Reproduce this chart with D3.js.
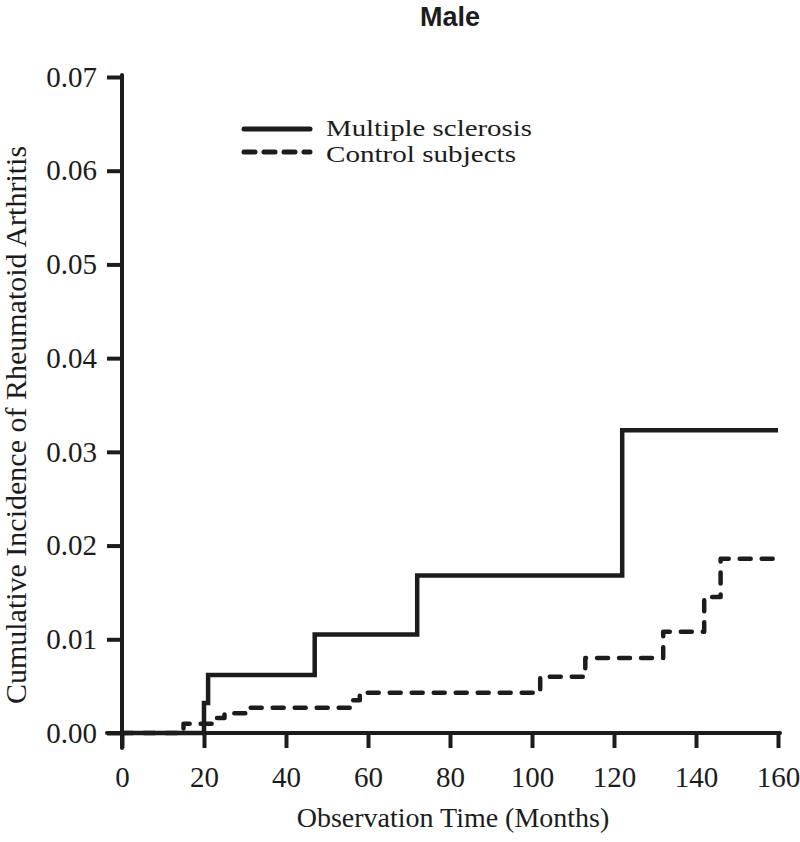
<!DOCTYPE html>
<html><head><meta charset="utf-8">
<script src="https://cdn.jsdelivr.net/npm/d3@7"></script>
<style>body{margin:0;background:#fff}</style>
</head><body>
<svg id="c" width="800" height="842"></svg>
<script>
const msTime = [0, 20, 21, 47, 72, 122, 160];
const msValue = [0, 0.0032, 0.0062, 0.0105, 0.0168, 0.0323, 0.0323];
const ctrlTime = [0, 15, 23, 25, 31, 56, 58, 102, 113, 132, 142, 146, 160];
const ctrlValue = [0, 0.001, 0.0016, 0.0021, 0.0027, 0.0035, 0.0043, 0.006, 0.008, 0.0108, 0.0145, 0.0186, 0.0186];
const xTicks = [0, 20, 40, 60, 80, 100, 120, 140, 160];
const yTicks = [0, 0.01, 0.02, 0.03, 0.04, 0.05, 0.06, 0.07];
const seriesNames = ["Multiple sclerosis", "Control subjects"];

const col = "#1c1c1c";
const svg = d3.select("#c");
const x = d3.scaleLinear().domain([0, 160]).range([122, 778]);
const y = d3.scaleLinear().domain([0, 0.07]).range([733, 77]);
const serif = "'Liberation Serif','Times New Roman',serif";

// axes
const xa = svg.append("g").attr("transform", "translate(0,733)")
  .call(d3.axisBottom(x).tickValues(xTicks).tickSize(15).tickPadding(18).tickFormat(d3.format("d")));
const ya = svg.append("g").attr("transform", "translate(122,0)")
  .call(d3.axisLeft(y).tickValues(yTicks).tickSize(15).tickPadding(10).tickFormat(d3.format(".2f")));
[xa, ya].forEach(a => {
  a.select(".domain").remove();
  a.selectAll(".tick line").attr("stroke", col).attr("stroke-width", 4);
  a.selectAll(".tick text").attr("fill", col).style("font-family", serif).style("font-size", "29px");
});
svg.append("line").attr("x1", 107).attr("x2", x(160) + 2).attr("y1", 733).attr("y2", 733)
  .attr("stroke", col).attr("stroke-width", 4).attr("stroke-linecap", "round");
svg.append("line").attr("x1", 122).attr("x2", 122).attr("y1", y(0.07) - 2).attr("y2", 748)
  .attr("stroke", col).attr("stroke-width", 4).attr("stroke-linecap", "round");

// lines
const line = d3.line().x(d => x(d[0])).y(d => y(d[1])).curve(d3.curveStepAfter);
svg.append("path").datum(ctrlTime.map((t, i) => [t, ctrlValue[i]]))
  .attr("d", line).attr("fill", "none").attr("stroke", col).attr("stroke-width", 4.5)
  .attr("stroke-dasharray", "11,11").attr("stroke-linecap", "round").attr("stroke-linejoin", "round");
svg.append("path").datum(msTime.map((t, i) => [t, msValue[i]]))
  .attr("d", line).attr("fill", "none").attr("stroke", col).attr("stroke-width", 4.5)
  .attr("stroke-linejoin", "miter");

// legend
const lg = svg.append("g");
seriesNames.forEach((n, i) => {
  const yy = 129 + i * 23;
  lg.append("line").attr("x1", 244).attr("x2", 310).attr("y1", yy).attr("y2", yy)
    .attr("stroke", col).attr("stroke-width", 5).attr("stroke-linecap", "round")
    .attr("stroke-dasharray", i ? "11,9" : null);
  lg.append("text").attr("x", 326).attr("y", 136 + i * 26).text(n)
    .attr("fill", col).style("font-family", serif).style("font-size", "23px")
    .attr("textLength", i ? 190 : 206).attr("lengthAdjust", "spacingAndGlyphs");
});

// titles
svg.append("text").attr("x", 450).attr("y", 26).attr("text-anchor", "middle").text("Male")
  .attr("fill", col).style("font-family", "'Liberation Sans',Arial,sans-serif").style("font-weight", "bold").style("font-size", "27px");
svg.append("text").attr("x", 453).attr("y", 827).attr("text-anchor", "middle").text("Observation Time (Months)")
  .attr("fill", col).style("font-family", serif).style("font-size", "28px");
svg.append("text").attr("transform", "translate(26,425) rotate(-90)").attr("text-anchor", "middle")
  .text("Cumulative Incidence of Rheumatoid Arthritis")
  .attr("fill", col).style("font-family", serif).style("font-size", "30px");
</script>
</body></html>
